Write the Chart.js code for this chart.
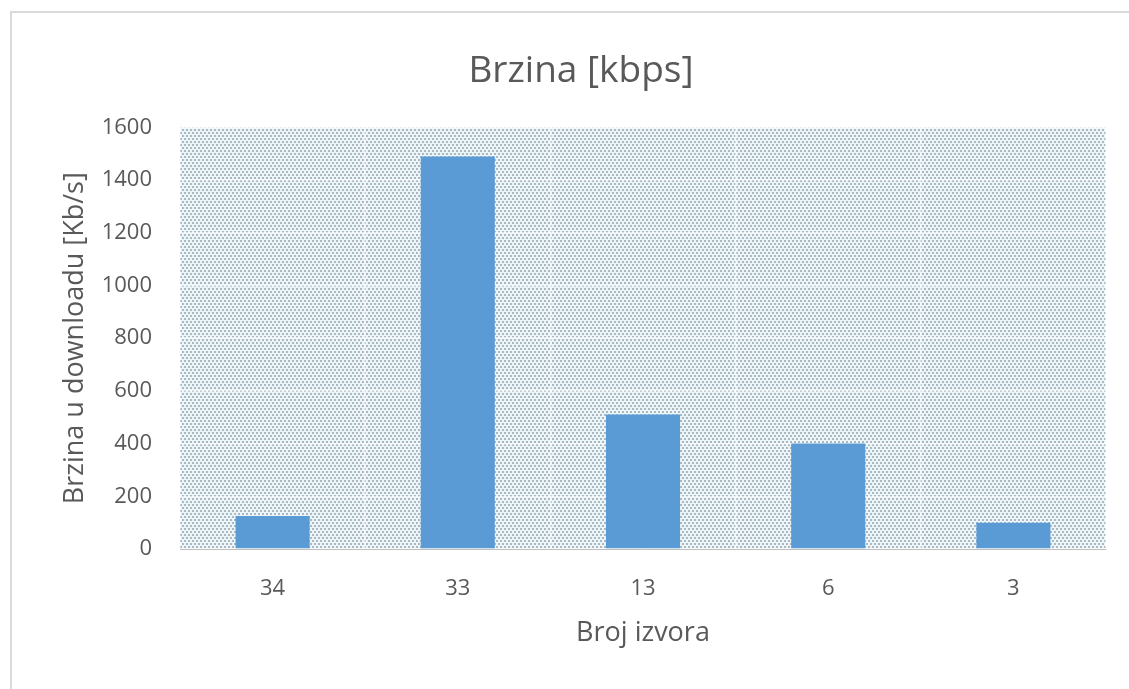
<!DOCTYPE html>
<html>
<head>
<meta charset="utf-8">
<script src="https://cdn.jsdelivr.net/npm/chart.js@4/dist/chart.umd.min.js"></script>
<style>
  html, body { margin: 0; padding: 0; background: #fff; }
  #wrap { width: 1129px; height: 689px; }
</style>
</head>
<body>
<div id="wrap"><canvas id="brzina__chart"></canvas></div>
<script>
const categories = ["34", "33", "13", "6", "3"]
const speeds = [125, 1490, 510, 400, 100]
const yTicks = [0, 200, 400, 600, 800, 1000, 1200, 1400, 1600]

const textColor = "#595959"
const fontName = "'Open Sans', 'Noto Sans', sans-serif"

// dotted fill like the office "pattern" plot background
function makeDots(ctx) {
  const tile = document.createElement("canvas")
  tile.width = 4
  tile.height = 6
  const t = tile.getContext("2d")
  t.fillStyle = "#ebf6fb"
  t.fillRect(0, 0, 4, 6)
  t.fillStyle = "#aeb8be"
  t.fillRect(0, 0, 2, 2)
  t.fillRect(2, 3, 2, 2)
  return ctx.createPattern(tile, "repeat")
}

const backdrop = {
  id: "backdrop",
  beforeDraw(chart) {
    const { ctx, chartArea } = chart
    ctx.save()
    ctx.fillStyle = "#fff"
    ctx.fillRect(0, 0, chart.width, chart.height)
    ctx.strokeStyle = "#d9d9d9"
    ctx.lineWidth = 2
    ctx.beginPath()
    ctx.moveTo(11, chart.height + 5)
    ctx.lineTo(11, 12)
    ctx.lineTo(chart.width + 5, 12)
    ctx.stroke()
    ctx.fillStyle = makeDots(ctx)
    ctx.fillRect(chartArea.left, chartArea.top, chartArea.width, chartArea.height)
    ctx.restore()
  },
}

const canvas = document.getElementById("brzina__chart")
new Chart(canvas, {
  type: "bar",
  data: {
    labels: categories,
    datasets: [
      {
        label: "Brzina",
        data: speeds,
        backgroundColor: "#5b9bd5",
        borderWidth: 0,
        categoryPercentage: 1,
        barPercentage: 0.4,
      },
    ],
  },
  options: {
    responsive: true,
    maintainAspectRatio: false,
    animation: false,
    layout: { padding: { left: 56, right: 23, top: 0, bottom: 35 } },
    plugins: {
      legend: { display: false },
      tooltip: { enabled: false },
      title: {
        display: true,
        text: "Brzina [kbps]",
        color: textColor,
        font: { family: fontName, size: 37, weight: "normal" },
        padding: { top: 49, bottom: 34 },
      },
    },
    scales: {
      x: {
        afterFit(scale) {
          scale.height = 105
        },
        grid: { color: "rgba(255,255,255,0.6)", lineWidth: 1.5, drawTicks: false },
        border: { color: "#bfbfbf", width: 1 },
        ticks: {
          color: textColor,
          font: { family: fontName, size: 22 },
          padding: 27,
        },
        title: {
          display: true,
          text: "Broj izvora",
          color: textColor,
          font: { family: fontName, size: 27 },
          padding: { top: 18, bottom: 4 },
        },
      },
      y: {
        min: 0,
        max: 1600,
        afterBuildTicks(axis) {
          axis.ticks = yTicks.map((v) => ({ value: v }))
        },
        afterFit(scale) {
          scale.width = 124
        },
        grid: { color: "rgba(255,255,255,0.6)", lineWidth: 1.5, drawTicks: false },
        border: { display: false },
        ticks: {
          color: textColor,
          font: { family: fontName, size: 22 },
          padding: 28,
          callback: (v) => String(v),
        },
        title: {
          display: true,
          text: "Brzina u downloadu [Kb/s]",
          color: textColor,
          font: { family: fontName, size: 27 },
          padding: { top: 3, bottom: 4 },
        },
      },
    },
  },
  plugins: [backdrop],
})
</script>
</body>
</html>
